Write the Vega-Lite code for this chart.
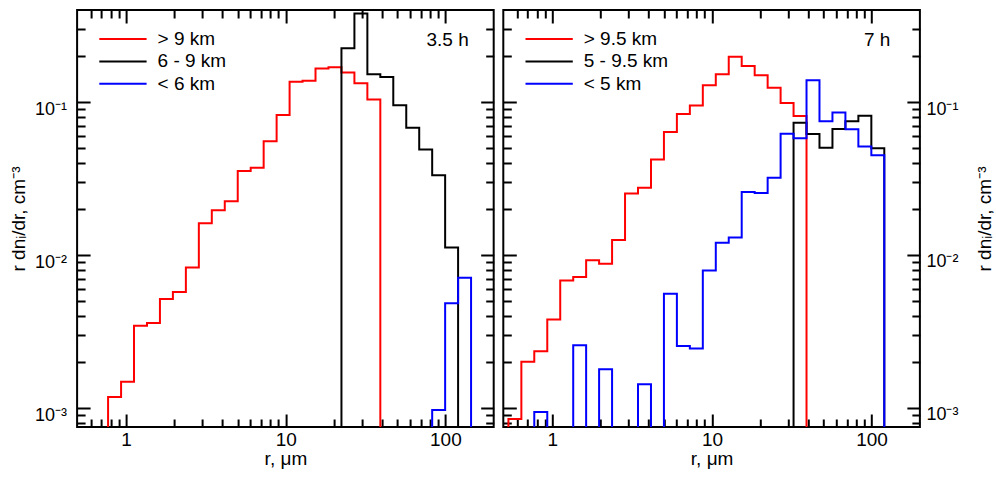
{
  "$schema": "https://vega.github.io/schema/vega-lite/v6.json",
  "background": "#ffffff",
  "padding": {"left": 8.1, "top": 8, "right": 0, "bottom": 0},
  "spacing": 5.2,
  "config": {
    "font": "Liberation Sans",
    "view": {"stroke": "#000000", "strokeWidth": 2},
    "axis": {
      "domain": false, "grid": false, "tickColor": "#000000", "tickWidth": 2,
      "labelColor": "#000000", "labelFont": "Liberation Sans", "labelFontSize": 19,
      "titleFont": "Liberation Sans", "titleFontSize": 19, "titleFontWeight": "normal", "titleColor": "#000000",
      "labelFlush": false, "labelOverlap": false, "minExtent": 0
    },
    "axisX": {"minExtent": 0},
    "axisY": {"minExtent": 0},
    "legend": {
      "orient": "none", "legendX": 20.85, "legendY": 19.5, "padding": 0,
      "symbolType": "stroke", "symbolSize": 2237, "symbolStrokeWidth": 2,
      "labelFont": "Liberation Sans", "labelFontSize": 19, "labelColor": "#000000",
      "labelOffset": 9.6, "clipHeight": 19, "rowPadding": 2.4
    }
  },
  "datasets": {
    "h35": [
      {"s": "> 9 km", "i": 0, "r": 0.771, "v": 0.00001},
      {"s": "> 9 km", "i": 1, "r": 0.771, "v": 0.00118},
      {"s": "> 9 km", "i": 2, "r": 0.930, "v": 0.00148},
      {"s": "> 9 km", "i": 3, "r": 1.121, "v": 0.00345},
      {"s": "> 9 km", "i": 4, "r": 1.352, "v": 0.00359},
      {"s": "> 9 km", "i": 5, "r": 1.629, "v": 0.00515},
      {"s": "> 9 km", "i": 6, "r": 1.964, "v": 0.00572},
      {"s": "> 9 km", "i": 7, "r": 2.368, "v": 0.00827},
      {"s": "> 9 km", "i": 8, "r": 2.855, "v": 0.0161},
      {"s": "> 9 km", "i": 9, "r": 3.442, "v": 0.0196},
      {"s": "> 9 km", "i": 10, "r": 4.150, "v": 0.0225},
      {"s": "> 9 km", "i": 11, "r": 5.003, "v": 0.0354},
      {"s": "> 9 km", "i": 12, "r": 6.031, "v": 0.0372},
      {"s": "> 9 km", "i": 13, "r": 7.271, "v": 0.0554},
      {"s": "> 9 km", "i": 14, "r": 8.766, "v": 0.0822},
      {"s": "> 9 km", "i": 15, "r": 10.57, "v": 0.136},
      {"s": "> 9 km", "i": 16, "r": 12.74, "v": 0.138},
      {"s": "> 9 km", "i": 17, "r": 15.36, "v": 0.166},
      {"s": "> 9 km", "i": 18, "r": 18.52, "v": 0.169},
      {"s": "> 9 km", "i": 19, "r": 22.33, "v": 0.156},
      {"s": "> 9 km", "i": 20, "r": 26.92, "v": 0.133},
      {"s": "> 9 km", "i": 21, "r": 32.45, "v": 0.104},
      {"s": "> 9 km", "i": 22, "r": 39.12, "v": 0.00001},
      {"s": "6 - 9 km", "i": 0, "r": 22.33, "v": 0.00001},
      {"s": "6 - 9 km", "i": 1, "r": 22.33, "v": 0.2245},
      {"s": "6 - 9 km", "i": 2, "r": 26.92, "v": 0.380},
      {"s": "6 - 9 km", "i": 3, "r": 32.45, "v": 0.152},
      {"s": "6 - 9 km", "i": 4, "r": 39.12, "v": 0.146},
      {"s": "6 - 9 km", "i": 5, "r": 47.16, "v": 0.0952},
      {"s": "6 - 9 km", "i": 6, "r": 56.86, "v": 0.0679},
      {"s": "6 - 9 km", "i": 7, "r": 68.55, "v": 0.049},
      {"s": "6 - 9 km", "i": 8, "r": 82.64, "v": 0.0332},
      {"s": "6 - 9 km", "i": 9, "r": 99.63, "v": 0.0112},
      {"s": "6 - 9 km", "i": 10, "r": 120.1, "v": 0.00001},
      {"s": "< 6 km", "i": 0, "r": 82.64, "v": 0.00001},
      {"s": "< 6 km", "i": 1, "r": 82.64, "v": 0.000967},
      {"s": "< 6 km", "i": 2, "r": 99.63, "v": 0.00483},
      {"s": "< 6 km", "i": 3, "r": 120.1, "v": 0.00709},
      {"s": "< 6 km", "i": 4, "r": 144.8, "v": 0.00001}
    ],
    "h7": [
      {"s": "> 9.5 km", "i": 0, "r": 0.531, "v": 0.00001},
      {"s": "> 9.5 km", "i": 1, "r": 0.531, "v": 0.000845},
      {"s": "> 9.5 km", "i": 2, "r": 0.640, "v": 0.0020},
      {"s": "> 9.5 km", "i": 3, "r": 0.771, "v": 0.00235},
      {"s": "> 9.5 km", "i": 4, "r": 0.930, "v": 0.00379},
      {"s": "> 9.5 km", "i": 5, "r": 1.121, "v": 0.00682},
      {"s": "> 9.5 km", "i": 6, "r": 1.352, "v": 0.00717},
      {"s": "> 9.5 km", "i": 7, "r": 1.629, "v": 0.00922},
      {"s": "> 9.5 km", "i": 8, "r": 1.964, "v": 0.00876},
      {"s": "> 9.5 km", "i": 9, "r": 2.368, "v": 0.01252},
      {"s": "> 9.5 km", "i": 10, "r": 2.855, "v": 0.0252},
      {"s": "> 9.5 km", "i": 11, "r": 3.442, "v": 0.0275},
      {"s": "> 9.5 km", "i": 12, "r": 4.150, "v": 0.0421},
      {"s": "> 9.5 km", "i": 13, "r": 5.003, "v": 0.0636},
      {"s": "> 9.5 km", "i": 14, "r": 6.031, "v": 0.0835},
      {"s": "> 9.5 km", "i": 15, "r": 7.271, "v": 0.0949},
      {"s": "> 9.5 km", "i": 16, "r": 8.766, "v": 0.129},
      {"s": "> 9.5 km", "i": 17, "r": 10.57, "v": 0.152},
      {"s": "> 9.5 km", "i": 18, "r": 12.74, "v": 0.1975},
      {"s": "> 9.5 km", "i": 19, "r": 15.36, "v": 0.172},
      {"s": "> 9.5 km", "i": 20, "r": 18.52, "v": 0.150},
      {"s": "> 9.5 km", "i": 21, "r": 22.33, "v": 0.124},
      {"s": "> 9.5 km", "i": 22, "r": 26.92, "v": 0.0986},
      {"s": "> 9.5 km", "i": 23, "r": 32.45, "v": 0.081},
      {"s": "> 9.5 km", "i": 24, "r": 39.12, "v": 0.00001},
      {"s": "5 - 9.5 km", "i": 0, "r": 32.45, "v": 0.00001},
      {"s": "5 - 9.5 km", "i": 1, "r": 32.45, "v": 0.0732},
      {"s": "5 - 9.5 km", "i": 2, "r": 39.12, "v": 0.0618},
      {"s": "5 - 9.5 km", "i": 3, "r": 47.16, "v": 0.0502},
      {"s": "5 - 9.5 km", "i": 4, "r": 56.86, "v": 0.0666},
      {"s": "5 - 9.5 km", "i": 5, "r": 68.55, "v": 0.0748},
      {"s": "5 - 9.5 km", "i": 6, "r": 82.64, "v": 0.0815},
      {"s": "5 - 9.5 km", "i": 7, "r": 99.63, "v": 0.0499},
      {"s": "5 - 9.5 km", "i": 8, "r": 120.1, "v": 0.00001},
      {"s": "< 5 km", "i": 0, "r": 0.771, "v": 0.00001},
      {"s": "< 5 km", "i": 1, "r": 0.771, "v": 0.000939},
      {"s": "< 5 km", "i": 2, "r": 0.930, "v": 0.00001},
      {"s": "< 5 km", "i": 3, "r": 1.121, "v": 0.00001},
      {"s": "< 5 km", "i": 4, "r": 1.352, "v": 0.00257},
      {"s": "< 5 km", "i": 5, "r": 1.629, "v": 0.00001},
      {"s": "< 5 km", "i": 6, "r": 1.964, "v": 0.00179},
      {"s": "< 5 km", "i": 7, "r": 2.368, "v": 0.00001},
      {"s": "< 5 km", "i": 8, "r": 2.855, "v": 0.00001},
      {"s": "< 5 km", "i": 9, "r": 3.442, "v": 0.00143},
      {"s": "< 5 km", "i": 10, "r": 4.150, "v": 0.00001},
      {"s": "< 5 km", "i": 11, "r": 5.003, "v": 0.00558},
      {"s": "< 5 km", "i": 12, "r": 6.031, "v": 0.00254},
      {"s": "< 5 km", "i": 13, "r": 7.271, "v": 0.00245},
      {"s": "< 5 km", "i": 14, "r": 8.766, "v": 0.00793},
      {"s": "< 5 km", "i": 15, "r": 10.57, "v": 0.0120},
      {"s": "< 5 km", "i": 16, "r": 12.74, "v": 0.0130},
      {"s": "< 5 km", "i": 17, "r": 15.36, "v": 0.0258},
      {"s": "< 5 km", "i": 18, "r": 18.52, "v": 0.0254},
      {"s": "< 5 km", "i": 19, "r": 22.33, "v": 0.0320},
      {"s": "< 5 km", "i": 20, "r": 26.92, "v": 0.0620},
      {"s": "< 5 km", "i": 21, "r": 32.45, "v": 0.0579},
      {"s": "< 5 km", "i": 22, "r": 39.12, "v": 0.139},
      {"s": "< 5 km", "i": 23, "r": 47.16, "v": 0.0748},
      {"s": "< 5 km", "i": 24, "r": 56.86, "v": 0.0856},
      {"s": "< 5 km", "i": 25, "r": 68.55, "v": 0.0663},
      {"s": "< 5 km", "i": 26, "r": 82.64, "v": 0.0513},
      {"s": "< 5 km", "i": 27, "r": 99.63, "v": 0.0449},
      {"s": "< 5 km", "i": 28, "r": 120.1, "v": 0.00001}
    ]
  },
  "hconcat": [
    {
      "width": 416.6,
      "height": 417,
      "layer": [
        {
          "data": {"name": "h35"},
          "mark": {"type": "line", "interpolate": "step-after", "clip": true, "strokeWidth": 2},
          "encoding": {
            "x": {
              "field": "r", "type": "quantitative",
              "scale": {"type": "log", "domain": [0.4932, 200.7], "nice": false},
              "axis": {
                "orient": "bottom", "values": [1, 10, 100], "format": "d", "tickSize": -13,
                "labelBaseline": "alphabetic", "labelPadding": 31.5,
                "title": "r, μm", "titleY": 37.5, "titleBaseline": "alphabetic"
              }
            },
            "y": {
              "field": "v", "type": "quantitative",
              "scale": {"type": "log", "domain": [0.00075, 0.4], "nice": false},
              "axis": {
                "orient": "left", "values": [0.001, 0.01, 0.1], "tickSize": -13,
                "labelExpr": "datum.value < 0.005 ? '10⁻³' : datum.value < 0.05 ? '10⁻²' : '10⁻¹'",
                "labelFontSize": 18, "labelBaseline": "alphabetic", "labelOffset": 12.5, "labelPadding": 23.5,
                "title": "r dnᵢ/dr, cm⁻³", "titleAngle": 270, "titleBaseline": "alphabetic", "titleX": -52.9
              }
            },
            "color": {
              "field": "s", "type": "nominal",
              "scale": {"domain": ["> 9 km", "6 - 9 km", "< 6 km"], "range": ["#ff0000", "#000000", "#0000ff"]},
              "legend": {"title": null, "orient": "none", "legendX": 20.85, "legendY": 19.5}
            },
            "order": {"field": "i", "type": "quantitative"}
          }
        },
        {
          "data": {"values": [{"label": "3.5 h"}]},
          "mark": {"type": "text", "align": "right", "baseline": "alphabetic", "fontSize": 19, "font": "Liberation Sans", "color": "#000000"},
          "encoding": {
            "x": {"datum": 140, "type": "quantitative",
                  "axis": {"orient": "top", "values": [1, 10, 100], "tickSize": -13, "labels": false, "title": null}},
            "y": {"datum": 0.232, "type": "quantitative",
                  "axis": {"orient": "right", "values": [0.001, 0.01, 0.1], "tickSize": -13, "labels": false, "title": null}},
            "text": {"field": "label"}
          }
        },
        {
          "data": {"values": []},
          "mark": "point",
          "encoding": {
            "x": {"field": "r", "type": "quantitative",
                  "axis": {"orient": "bottom", "values": [0.6, 0.7, 0.8, 0.9, 2, 3, 4, 5, 6, 7, 8, 9, 20, 30, 40, 50, 60, 70, 80, 90], "tickSize": -8, "labels": false, "title": null}},
            "y": {"field": "v", "type": "quantitative",
                  "axis": {"orient": "left", "values": [0.0008, 0.0009, 0.002, 0.003, 0.004, 0.005, 0.006, 0.007, 0.008, 0.009, 0.02, 0.03, 0.04, 0.05, 0.06, 0.07, 0.08, 0.09, 0.2, 0.3], "tickSize": -8, "labels": false, "title": null}}
          }
        },
        {
          "data": {"values": []},
          "mark": "point",
          "encoding": {
            "x": {"field": "r", "type": "quantitative",
                  "axis": {"orient": "top", "values": [0.6, 0.7, 0.8, 0.9, 2, 3, 4, 5, 6, 7, 8, 9, 20, 30, 40, 50, 60, 70, 80, 90], "tickSize": -8, "labels": false, "title": null}},
            "y": {"field": "v", "type": "quantitative",
                  "axis": {"orient": "right", "values": [0.0008, 0.0009, 0.002, 0.003, 0.004, 0.005, 0.006, 0.007, 0.008, 0.009, 0.02, 0.03, 0.04, 0.05, 0.06, 0.07, 0.08, 0.09, 0.2, 0.3], "tickSize": -8, "labels": false, "title": null}}
          }
        }
      ],
      "resolve": {"axis": {"x": "independent", "y": "independent"}}
    },
    {
      "width": 416.6,
      "height": 417,
      "layer": [
        {
          "data": {"name": "h7"},
          "mark": {"type": "line", "interpolate": "step-after", "clip": true, "strokeWidth": 2},
          "encoding": {
            "x": {
              "field": "r", "type": "quantitative",
              "scale": {"type": "log", "domain": [0.4932, 200.7], "nice": false},
              "axis": {
                "orient": "bottom", "values": [1, 10, 100], "format": "d", "tickSize": -13,
                "labelBaseline": "alphabetic", "labelPadding": 31.5,
                "title": "r, μm", "titleY": 37.5, "titleBaseline": "alphabetic"
              }
            },
            "y": {
              "field": "v", "type": "quantitative",
              "scale": {"type": "log", "domain": [0.00075, 0.4], "nice": false},
              "axis": {
                "orient": "right", "values": [0.001, 0.01, 0.1], "tickSize": -13,
                "labelExpr": "datum.value < 0.005 ? '10⁻³' : datum.value < 0.05 ? '10⁻²' : '10⁻¹'",
                "labelFontSize": 18, "labelBaseline": "alphabetic", "labelOffset": 12, "labelPadding": 19,
                "title": "r dnᵢ/dr, cm⁻³", "titleAngle": 270, "titleBaseline": "alphabetic", "titleX": 71
              }
            },
            "color": {
              "field": "s", "type": "nominal",
              "scale": {"domain": ["> 9.5 km", "5 - 9.5 km", "< 5 km"], "range": ["#ff0000", "#000000", "#0000ff"]},
              "legend": {"title": null, "orient": "none", "legendX": 20.85, "legendY": 19.5}
            },
            "order": {"field": "i", "type": "quantitative"}
          }
        },
        {
          "data": {"values": [{"label": "7 h"}]},
          "mark": {"type": "text", "align": "right", "baseline": "alphabetic", "fontSize": 19, "font": "Liberation Sans", "color": "#000000"},
          "encoding": {
            "x": {"datum": 131.2, "type": "quantitative",
                  "axis": {"orient": "top", "values": [1, 10, 100], "tickSize": -13, "labels": false, "title": null}},
            "y": {"datum": 0.232, "type": "quantitative",
                  "axis": {"orient": "left", "values": [0.001, 0.01, 0.1], "tickSize": -13, "labels": false, "title": null}},
            "text": {"field": "label"}
          }
        },
        {
          "data": {"values": []},
          "mark": "point",
          "encoding": {
            "x": {"field": "r", "type": "quantitative",
                  "axis": {"orient": "bottom", "values": [0.6, 0.7, 0.8, 0.9, 2, 3, 4, 5, 6, 7, 8, 9, 20, 30, 40, 50, 60, 70, 80, 90], "tickSize": -8, "labels": false, "title": null}},
            "y": {"field": "v", "type": "quantitative",
                  "axis": {"orient": "right", "values": [0.0008, 0.0009, 0.002, 0.003, 0.004, 0.005, 0.006, 0.007, 0.008, 0.009, 0.02, 0.03, 0.04, 0.05, 0.06, 0.07, 0.08, 0.09, 0.2, 0.3], "tickSize": -8, "labels": false, "title": null}}
          }
        },
        {
          "data": {"values": []},
          "mark": "point",
          "encoding": {
            "x": {"field": "r", "type": "quantitative",
                  "axis": {"orient": "top", "values": [0.6, 0.7, 0.8, 0.9, 2, 3, 4, 5, 6, 7, 8, 9, 20, 30, 40, 50, 60, 70, 80, 90], "tickSize": -8, "labels": false, "title": null}},
            "y": {"field": "v", "type": "quantitative",
                  "axis": {"orient": "left", "values": [0.0008, 0.0009, 0.002, 0.003, 0.004, 0.005, 0.006, 0.007, 0.008, 0.009, 0.02, 0.03, 0.04, 0.05, 0.06, 0.07, 0.08, 0.09, 0.2, 0.3], "tickSize": -8, "labels": false, "title": null}}
          }
        }
      ],
      "resolve": {"axis": {"x": "independent", "y": "independent"}}
    }
  ],
  "resolve": {"scale": {"color": "independent"}, "legend": {"color": "independent"}}
}
